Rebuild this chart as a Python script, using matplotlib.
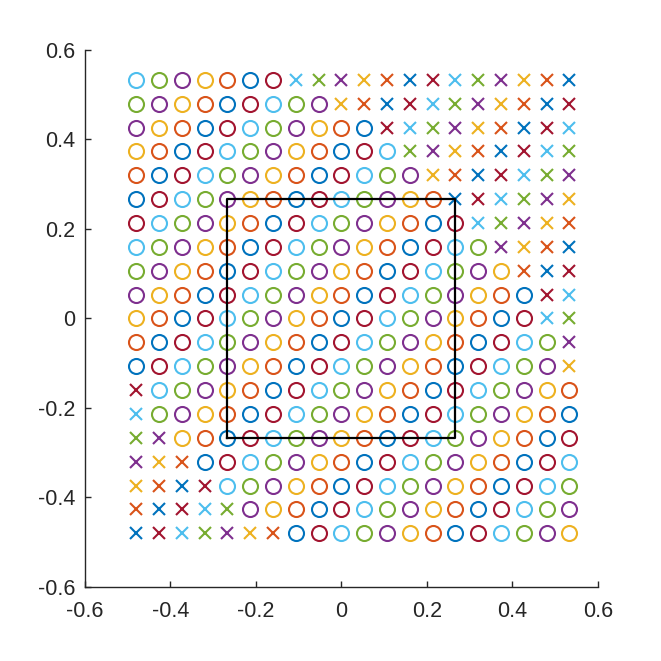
import matplotlib
matplotlib.use('Agg')
import matplotlib.pyplot as plt
from cycler import cycler

# Dati: griglia di punti 20x20
xs = [-0.4800, -0.4267, -0.3733, -0.3200, -0.2667, -0.2133, -0.1600, -0.1067, -0.0533, 0.0000,
      0.0533, 0.1067, 0.1600, 0.2133, 0.2667, 0.3200, 0.3733, 0.4267, 0.4800, 0.5333]
ys = [-0.4800, -0.4267, -0.3733, -0.3200, -0.2667, -0.2133, -0.1600, -0.1067, -0.0533, 0.0000,
      0.0533, 0.1067, 0.1600, 0.2133, 0.2667, 0.3200, 0.3733, 0.4267, 0.4800, 0.5333]

# marcatori per riga, dall'alto (y=0.533) al basso (y=-0.48)
righe = [
    'oooooooxxxxxxxxxxxxx',
    'oooooooooxxxxxxxxxxx',
    'oooooooooooxxxxxxxxx',
    'ooooooooooooxxxxxxxx',
    'oooooooooooooxxxxxxx',
    'ooooooooooooooxxxxxx',
    'oooooooooooooooxxxxx',
    'ooooooooooooooooxxxx',
    'oooooooooooooooooxxx',
    'ooooooooooooooooooxx',
    'ooooooooooooooooooxx',
    'ooooooooooooooooooox',
    'ooooooooooooooooooox',
    'xooooooooooooooooooo',
    'xooooooooooooooooooo',
    'xxoooooooooooooooooo',
    'xxxooooooooooooooooo',
    'xxxxoooooooooooooooo',
    'xxxxxooooooooooooooo',
    'xxxxxxxooooooooooooo',
]

# quadrato nero
quadrato_x = [-0.2667, 0.2667, 0.2667, -0.2667, -0.2667]
quadrato_y = [-0.2667, -0.2667, 0.2667, 0.2667, -0.2667]

tick_vals = [-0.6, -0.4, -0.2, 0, 0.2, 0.4, 0.6]
tick_labels = ['-0.6', '-0.4', '-0.2', '0', '0.2', '0.4', '0.6']

colori = ['#0072BD', '#D95319', '#EDB120', '#7E2F8E', '#77AC30', '#4DBEEE', '#A2142F']

plt.rcParams['font.family'] = ['Liberation Sans', 'DejaVu Sans']

fig = plt.figure(figsize=(6.61, 6.61), dpi=100)
ax = fig.add_axes([0.1286, 0.112, 0.776, 0.8124])
ax.set_prop_cycle(cycler(color=colori))

# un punto per volta, colonna per colonna, dal basso verso l'alto
for i, x in enumerate(xs):
    for j, y in enumerate(ys):
        m = righe[len(ys) - 1 - j][i]
        if m == 'o':
            ax.plot(x, y, marker='o', linestyle='none', markersize=10.8,
                    markerfacecolor='none', markeredgewidth=1.5)
        else:
            ax.plot(x, y, marker='x', linestyle='none', markersize=8.2,
                    markeredgewidth=1.5)

ax.plot(quadrato_x, quadrato_y, color='black', linewidth=1.6)

ax.set_xlim(-0.6, 0.6)
ax.set_ylim(-0.6, 0.6)
ax.set_xticks(tick_vals)
ax.set_xticklabels(tick_labels)
ax.set_yticks(tick_vals)
ax.set_yticklabels(tick_labels)

for s in ['top', 'right']:
    ax.spines[s].set_visible(False)
for s in ['left', 'bottom']:
    ax.spines[s].set_color('#262626')
    ax.spines[s].set_linewidth(1.0)
ax.tick_params(direction='in', length=4, width=1.0, colors='#262626',
               labelsize=15.5)
ax.tick_params(axis='x', pad=10)
ax.tick_params(axis='y', pad=7)

fig.savefig('out.png', dpi=100)
